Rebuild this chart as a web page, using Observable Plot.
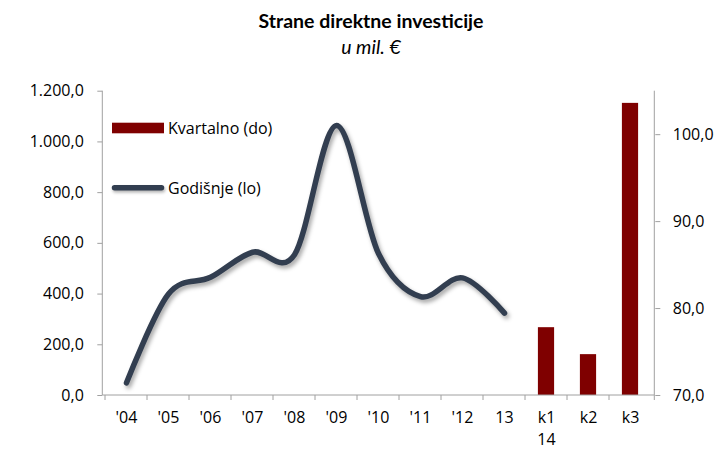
<!DOCTYPE html>
<html><head><meta charset="utf-8">
<script src="https://cdn.jsdelivr.net/npm/d3@7"></script>
<script src="https://cdn.jsdelivr.net/npm/@observablehq/plot@0.6"></script>
<style>
body{margin:0;background:#fff;width:717px;height:449px;overflow:hidden;position:relative}
#t,#s{position:absolute;left:0;width:742px;text-align:center;font-family:Lato,"Open Sans",sans-serif;font-size:19.5px;line-height:19.5px;color:#000;white-space:nowrap}
#t{top:11px;font-weight:bold}
#s{top:36.5px;font-style:italic}
#chart{position:absolute;left:0;top:60px}
</style></head><body>
<div id="t">Strane direktne investicije</div>
<div id="s">u mil. €</div>
<div id="chart"></div>
<script>
const years = ["'04","'05","'06","'07","'08","'09","'10","'11","'12","13"];
const annual = [50, 400, 466, 565, 555, 1065, 560, 390, 464, 325];
const quarters = ["k1","k2","k3"];
const quarterly = [77.8, 74.7, 103.6];
const categories = [...years, ...quarters];
const leftTicks = [0, 200, 400, 600, 800, 1000, 1200];
const rightTicks = [70, 80, 90, 100];
const leftDomain = [0, 1200];
const rightDomain = [70, 105];
const legendLabels = ["Kvartalno (do)", "Godišnje (lo)"];

const loc = d3.formatLocale({decimal: ",", thousands: ".", grouping: [3], currency: ["", "€"]});
const fmt = loc.format(",.1f");
const toLeft = v => (v - rightDomain[0]) / (rightDomain[1] - rightDomain[0]) * (leftDomain[1] - leftDomain[0]) + leftDomain[0];
const fromLeft = v => (v - leftDomain[0]) / (leftDomain[1] - leftDomain[0]) * (rightDomain[1] - rightDomain[0]) + rightDomain[0];

const lineData = years.map((c, i) => ({c, v: annual[i]}));
const barData = quarters.map((c, i) => ({c, v: toLeft(quarterly[i])}));

const LINE = "#323e50", BAR = "#7f0000", AX = "#a0a0a0";
const LH = 1.36;

const plot = Plot.plot({
  width: 717, height: 389,
  marginTop: 30.7, marginBottom: 54, marginLeft: 102.3, marginRight: 62.7,
  style: {fontFamily: "'Open Sans', sans-serif", fontSize: "16px", color: "#000", background: "#fff", overflow: "visible"},
  x: {type: "band", domain: categories, padding: 0, axis: null},
  y: {domain: leftDomain, axis: null},
  marks: [
    Plot.barY(barData, {x: "c", y: "v", fill: BAR, insetLeft: 12.9, insetRight: 12.9}),
    Plot.line(lineData, {x: "c", y: "v", stroke: LINE, strokeWidth: 5.5, curve: "cardinal", strokeLinecap: "round", strokeLinejoin: "round"}),
    Plot.axisY({ticks: leftTicks, tickFormat: fmt, tickSize: 5, tickPadding: 14, stroke: AX, fill: "#000", label: null, anchor: "left"}),
    Plot.axisY({ticks: rightTicks.map(toLeft), tickFormat: d => fmt(fromLeft(d)), tickSize: 5, tickPadding: 13, stroke: AX, fill: "#000", label: null, anchor: "right"}),
    Plot.axisX({tickSize: 0, tickPadding: 27.5 - 0.71 * LH * 16, tickFormat: d => d === "k1" ? "k1\n14" : d, lineHeight: LH, fill: "#000", label: null})
  ]
});
document.getElementById("chart").appendChild(plot);

const svg = d3.select(plot);
svg.select('g[aria-label="line"]').style("filter", "drop-shadow(2px 3px 2px rgba(0,0,0,0.35))");

const xs = plot.scale("x"), ys = plot.scale("y");
const x0 = xs.range[0], x1 = xs.range[1];
const yb = ys.apply(leftDomain[0]), yt = ys.apply(leftDomain[1]);
const g = svg.append("g").attr("stroke", AX).attr("stroke-width", 1).attr("fill", "none");
g.append("line").attr("x1", x0).attr("x2", x1).attr("y1", yb).attr("y2", yb);
g.append("line").attr("x1", x0).attr("x2", x0).attr("y1", yt).attr("y2", yb);
g.append("line").attr("x1", x1).attr("x2", x1).attr("y1", yt).attr("y2", yb);
const bounds = categories.map(c => xs.apply(c)).concat([x1]);
bounds.forEach(b => g.append("line").attr("x1", b).attr("x2", b).attr("y1", yb).attr("y2", yb + 5));

// legend
const lg = svg.append("g").attr("font-family", "'Open Sans', sans-serif").attr("font-size", 16).attr("fill", "#000").attr("text-anchor", "start");
lg.append("rect").attr("x", 112).attr("y", 62.7).attr("width", 52).attr("height", 10.6).attr("fill", BAR);
lg.append("text").attr("x", 168).attr("y", 68).attr("dy", "0.35em").text(legendLabels[0]);
lg.append("line").attr("x1", 114.5).attr("x2", 161.5).attr("y1", 127.7).attr("y2", 127.7)
  .attr("stroke", LINE).attr("stroke-width", 5.5).attr("stroke-linecap", "round")
  .style("filter", "drop-shadow(1px 2px 1.5px rgba(0,0,0,0.3))");
lg.append("text").attr("x", 168).attr("y", 128.3).attr("dy", "0.35em").text(legendLabels[1]);
</script>
</body></html>
